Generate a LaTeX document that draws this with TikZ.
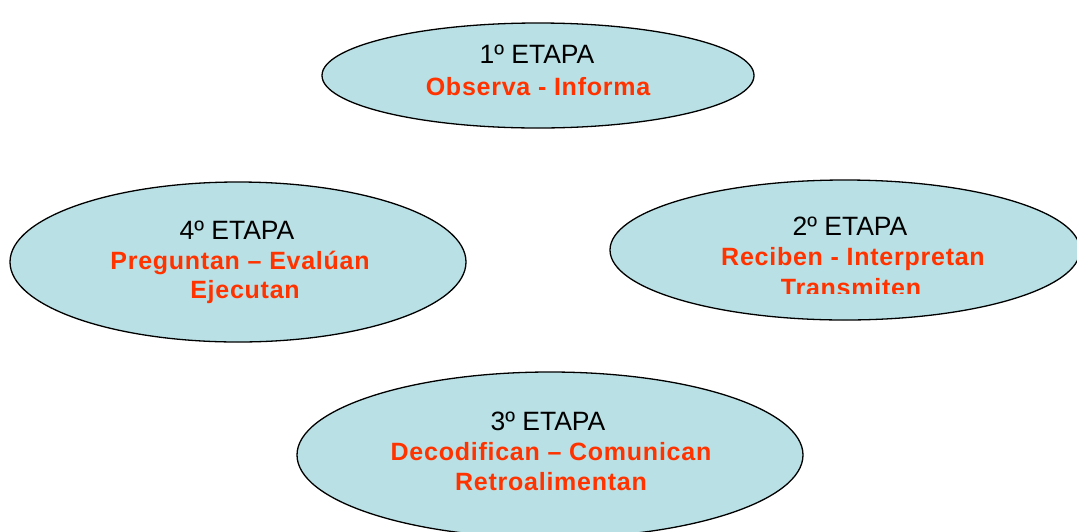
\documentclass[tikz,border=0pt]{standalone}
\usepackage{fontspec}
\setmainfont{Liberation Sans}
\newfontfamily\redfont{Liberation Sans}[LetterSpace=3]
\usetikzlibrary{shapes.geometric}
\definecolor{fillc}{RGB}{185,224,228}
\definecolor{redt}{RGB}{255,51,0}
\begin{document}
\begin{tikzpicture}[x=1pt,y=-1pt,
  stage/.style={ellipse, draw=black, line width=1.3pt, fill=fillc, inner sep=0pt},
  head/.style={anchor=base, inner sep=0pt, text=black, font=\fontsize{26.5}{30}\selectfont},
  body/.style={anchor=base, inner sep=0pt, text=redt, font=\redfont\fontsize{25}{30}\selectfont\bfseries}]
\useasboundingbox (0,0) rectangle (1077,531);
\clip (0,0) rectangle (1077,531);
\fill[white] (0,0) rectangle (1077,531);
% ellipses
\node[stage, minimum width=432pt, minimum height=105pt] (e1) at (538,75.5) {};
\node[stage, minimum width=470pt, minimum height=140pt] (e2) at (845,250) {};
\node[stage, minimum width=456pt, minimum height=160pt] (e4) at (238,262) {};
\node[stage, minimum width=506pt, minimum height=166pt] (e3) at (550,455) {};
% stage 1
\node[head] (t1a) at (537,63) {1º ETAPA};
\node[body] (t1b) at (538,95) {Observa - Informa};
% stage 2
\node[head] (t2a) at (850,235) {2º ETAPA};
\node[body] (t2b) at (853,265) {Reciben - Interpretan};
\begin{scope}
  \clip (600,0) rectangle (1077,293);
  \node[body] (t2c) at (851,296) {Transmiten};
\end{scope}
% stage 4
\node[head] (t4a) at (237,239) {4º ETAPA};
\node[body] (t4b) at (240,269) {Preguntan – Evalúan};
\node[body] (t4c) at (245,298) {Ejecutan};
% stage 3
\node[head] (t3a) at (548,430) {3º ETAPA};
\node[body] (t3b) at (551,460) {Decodifican – Comunican};
\node[body] (t3c) at (551,490) {Retroalimentan};
\end{tikzpicture}
\end{document}
